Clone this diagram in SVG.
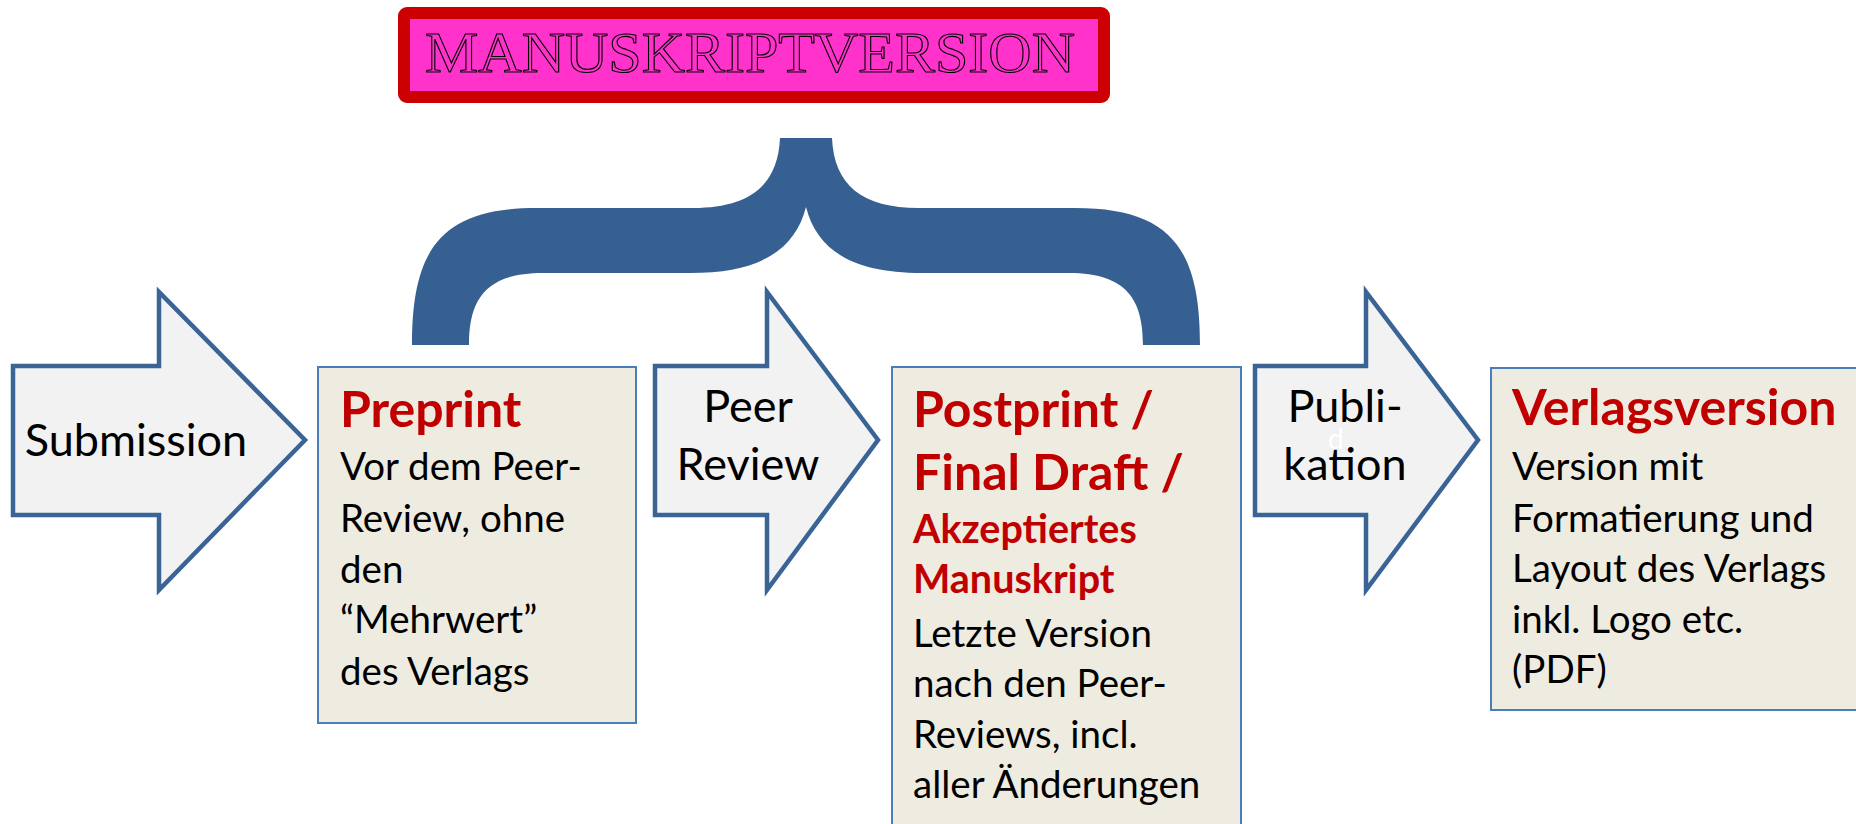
<svg xmlns="http://www.w3.org/2000/svg" width="1856" height="824" viewBox="0 0 1856 824">
<style>
.arrow{fill:#F2F2F2;stroke:#3A6396;stroke-width:4.5;stroke-linejoin:miter}
.box{fill:#EEECE1;stroke:#4A7EBB;stroke-width:2}
.lbl{font-family:Lato,"Liberation Sans",sans-serif;font-size:45px;fill:#000;text-anchor:middle}
.ghost{font-family:Lato,"Liberation Sans",sans-serif;font-size:28px;fill:#FFFFFF}
.head{font-family:Lato,"Liberation Sans",sans-serif;font-weight:bold;font-size:50px;fill:#C00000}
.sub{font-family:Lato,"Liberation Sans",sans-serif;font-weight:bold;font-size:39.5px;fill:#C00000}
.body{font-family:Lato,"Liberation Sans",sans-serif;font-size:38.5px;fill:#000}
</style>
<rect width="1856" height="824" fill="#fff"/>
<g id="title">
<rect x="404" y="13" width="700" height="84" rx="3" fill="#FF33CC" stroke="#CC0000" stroke-width="12"/>
<text x="425" y="72" font-family="'Liberation Serif',serif" font-size="58" fill="#FF33CC" stroke="#000" stroke-width="1.1" textLength="650" lengthAdjust="spacingAndGlyphs">MANUSKRIPTVERSION</text>
</g>
<g id="brace">
<path fill="#376092" d="M412,345 C412,250 440,208 537,208 L693,208 C750,208 778,185 780,138 L832,138 C834,185 862,208 919,208 L1075,208 C1172,208 1200,250 1200,345 L1143,345 C1143,300 1127,273 1069,273 L922,273 C852,273 817,250 806,207 C795,250 760,273 690,273 L543,273 C485,273 469,300 469,345 Z"/>
</g>
<g id="connectors">
<g id="arrow-submission">
<path class="arrow" d="M13,366 H159 V292 L305,440 L159,590 V515 H13 Z"/>
<text class="lbl" x="136" y="456">Submission</text>
</g>
<g id="arrow-peer-review">
<path class="arrow" d="M655,366 H767 V292 L878,440 L767,590 V515 H655 Z"/>
<text class="lbl" x="748" y="422">Peer</text>
<text class="lbl" x="748" y="480">Review</text>
</g>
<g id="arrow-publikation">
<path class="arrow" d="M1255,366 H1366 V292 L1478,440 L1366,590 V515 H1255 Z"/>
<text class="lbl" x="1345" y="422">Publi-</text>
<text class="ghost" x="1328" y="449">d</text>
<text class="lbl" x="1345" y="480">kation</text>
</g>
</g>
<g id="preprint">
<rect class="box" x="318" y="367" width="318" height="356"/>
<text class="head" x="340" y="427">Preprint</text>
<text class="body" x="340" y="480">Vor dem Peer-</text>
<text class="body" x="340" y="532">Review, ohne</text>
<text class="body" x="340" y="583">den</text>
<text class="body" x="340" y="633">“Mehrwert”</text>
<text class="body" x="340" y="685">des Verlags</text>
</g>
<g id="postprint">
<rect class="box" x="892" y="367" width="349" height="480"/>
<text class="head" x="913" y="427">Postprint /</text>
<text class="head" x="913" y="490">Final Draft /</text>
<text class="sub" x="913" y="543">Akzeptiertes</text>
<text class="sub" x="913" y="593">Manuskript</text>
<text class="body" x="913" y="647">Letzte Version</text>
<text class="body" x="913" y="697">nach den Peer-</text>
<text class="body" x="913" y="748">Reviews, incl.</text>
<text class="body" x="913" y="798">aller Änderungen</text>
</g>
<g id="verlagsversion">
<rect class="box" x="1491" y="368" width="380" height="342"/>
<text class="head" x="1512" y="425">Verlagsversion</text>
<text class="body" x="1512" y="480">Version mit</text>
<text class="body" x="1512" y="532">Formatierung und</text>
<text class="body" x="1512" y="582">Layout des Verlags</text>
<text class="body" x="1512" y="633">inkl. Logo etc.</text>
<text class="body" x="1512" y="683">(PDF)</text>
</g>
</svg>
